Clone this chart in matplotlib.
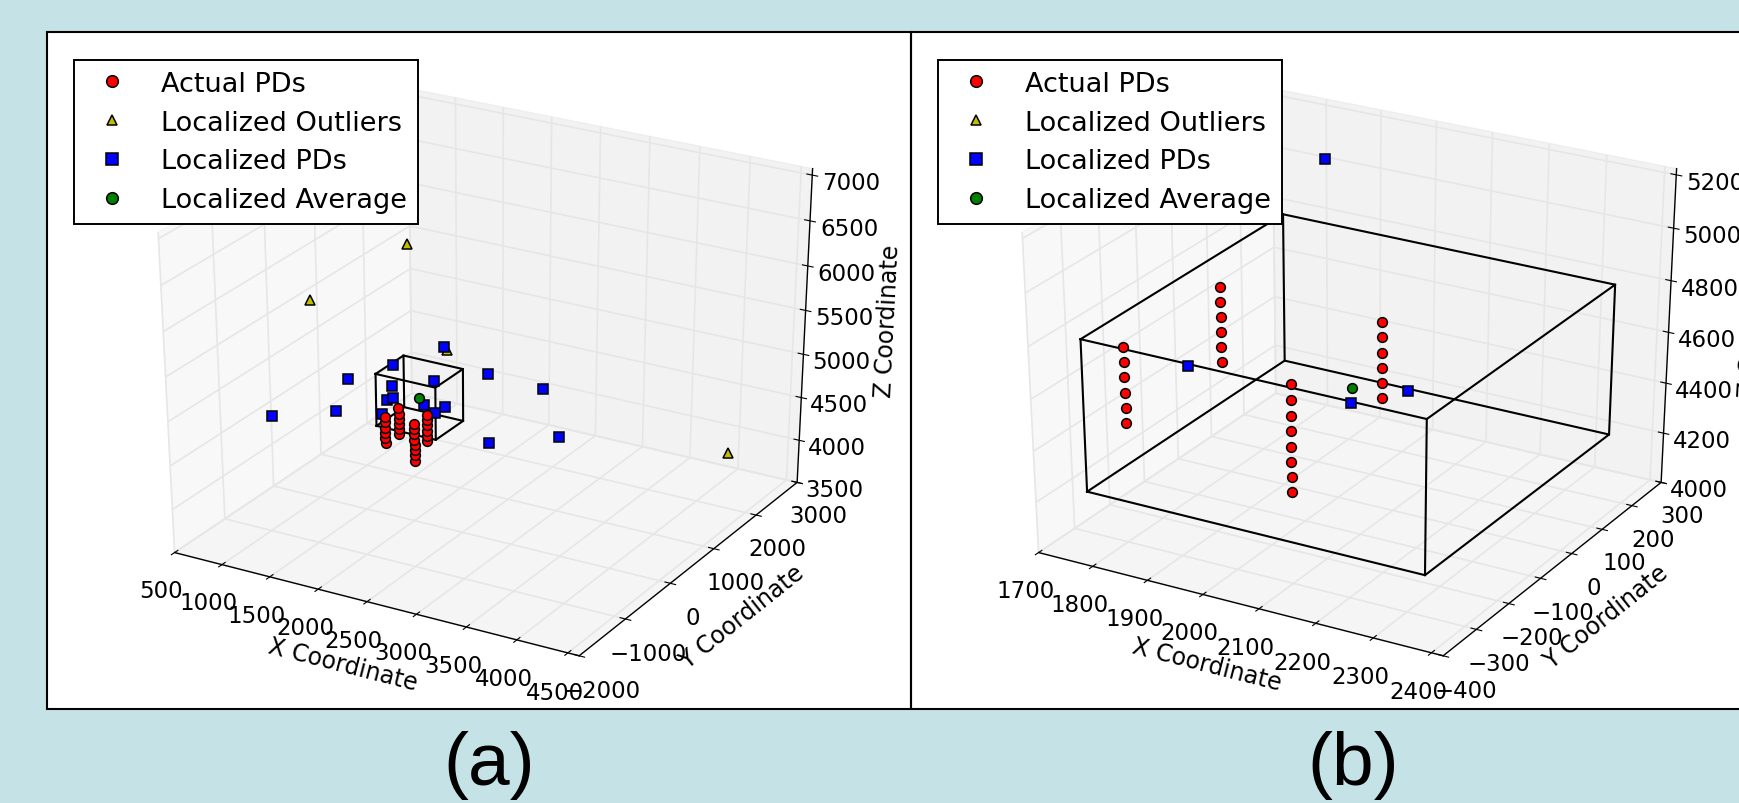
# 3D localisation plots, two panels side by side
import matplotlib
matplotlib.use('Agg')
import matplotlib.pyplot as plt
from matplotlib.patches import Rectangle
from mpl_toolkits.mplot3d import Axes3D

# PANEL A
a_xticks = [500, 1000, 1500, 2000, 2500, 3000, 3500, 4000, 4500]
a_yticks = [-2000, -1000, 0, 1000, 2000, 3000]
a_zticks = [3500, 4000, 4500, 5000, 5500, 6000, 6500, 7000]
a_xmax = 4610
a_zmax = 7070
a_box_x = [1771, 2380]
a_box_y = [-305, 275]
a_box_z = [4657, 5246]
a_pd_x = [1803, 1803, 1803, 1803, 1803, 1803, 1805, 1805, 1805, 1805, 1805, 1805,
          2103, 2103, 2103, 2103, 2103, 2103, 2103, 2103, 2101, 2101, 2101, 2101, 2101, 2101]
a_pd_y = [-189, -189, -189, -189, -189, -189, 87, 87, 87, 87, 87, 87,
          -187, -187, -187, -187, -187, -187, -187, -187, 89, 89, 89, 89, 89, 89]
a_pd_z = [4422, 4482, 4542, 4602, 4662, 4722, 4422, 4482, 4542, 4602, 4662, 4722,
          4302, 4362, 4422, 4482, 4542, 4602, 4662, 4722, 4422, 4482, 4542, 4602, 4662, 4722]
a_blue_x = [2322, 1795, 1327, 2221, 2769, 1781, 1727, 1793, 2115, 2331, 2228, 1194, 1672, 2775, 508, 3314, 3479]
a_blue_y = [0, 0, 0, 0, 0, 0, 0, 0, 0, 0, 0, 0, 0, 0, 0, 0, 0]
a_blue_z = [5572, 5243, 4966, 5170, 5383, 5005, 4828, 4868, 4867, 4908, 4813, 4564, 4658, 4610, 4329, 5358, 4863]
a_out_x = [1961, 947, 2354, 4513]
a_out_y = [0, 0, 0, 1500]
a_out_z = [6618, 5767, 5554, 4393]
a_avg_x = [2065]
a_avg_y = [0]
a_avg_z = [4941]

# PANEL B
b_xticks = [1700, 1800, 1900, 2000, 2100, 2200, 2300, 2400]
b_yticks = [-400, -300, -200, -100, 0, 100, 200, 300]
b_zticks = [4000, 4200, 4400, 4600, 4800, 5000, 5200]
b_xmax = 2420
b_zmax = 5223
b_box_x = [1721, 2326]
b_box_y = [-292, 295]
b_box_z = [4151, 4745]
b_pd_x = [1729, 1729, 1729, 1729, 1729, 1729, 1731, 1731, 1731, 1731, 1731, 1731,
          2029, 2029, 2029, 2029, 2029, 2029, 2029, 2029, 2027, 2027, 2027, 2027, 2027, 2027]
b_pd_y = [-189, -189, -189, -189, -189, -189, 87, 87, 87, 87, 87, 87,
          -187, -187, -187, -187, -187, -187, -187, -187, 89, 89, 89, 89, 89, 89]
b_pd_z = [4332, 4392, 4452, 4512, 4572, 4632, 4332, 4392, 4452, 4512, 4572, 4632,
          4212, 4272, 4332, 4392, 4452, 4512, 4572, 4632, 4332, 4392, 4452, 4512, 4572, 4632]
b_blue_x = [1723, 2023, 2125, 1910]
b_blue_y = [0, 0, 0, 112]
b_blue_z = [4389, 4389, 4488, 5185]
b_out_x = []
b_out_y = []
b_out_z = []
b_avg_x = [2026]
b_avg_y = [0]
b_avg_z = [4452]

bg = '#c5e2e6'
W, H = 1740.0, 804.0

plt.rcParams['font.family'] = ['DejaVu Sans']
plt.rcParams['grid.color'] = '#e6e6e6'
plt.rcParams['grid.linewidth'] = 1.2
plt.rcParams['axes.linewidth'] = 1.0


def panel(left, xticks, yticks, zticks, xmax, zmax):
    top, bottom, width = 34.0, 711.0, 864.0
    rect = [left / W, 1 - bottom / H, width / W, (bottom - top) / H]
    ax = fig.add_axes(rect, projection='3d')
    # the original panels are stretched, not square
    ax.apply_aspect = lambda position=None: None
    ax.set_box_aspect((1, 1, 1), zoom=1 / 1.1003)
    ax.computed_zorder = False
    ax.set_xlim(xticks[0], xmax)
    ax.set_ylim(yticks[0], yticks[-1])
    ax.set_zlim(zticks[0], zmax)
    ax.set_xticks(xticks)
    ax.set_yticks(yticks)
    ax.set_zticks(zticks)
    ax.set_xlabel('X Coordinate', fontsize=17, labelpad=15)
    ax.set_ylabel('Y Coordinate', fontsize=17, labelpad=15)
    ax.set_zlabel('Z Coordinate', fontsize=17, labelpad=18)
    ax.xaxis.set_tick_params(labelsize=16.5, pad=8)
    ax.yaxis.set_tick_params(labelsize=16.5, pad=8)
    ax.zaxis.set_tick_params(labelsize=16.5, pad=10)
    for axis in [ax.xaxis, ax.yaxis, ax.zaxis]:
        axis._axinfo['tick']['inward_factor'] = 0.16
        axis._axinfo['tick']['outward_factor'] = 0.16
    return ax


def draw_box(ax, box_x, box_y, box_z):
    x0, x1 = box_x
    y0, y1 = box_y
    z0, z1 = box_z
    for z in box_z:
        ax.plot([x0, x1, x1, x0, x0], [y0, y0, y1, y1, y0], [z, z, z, z, z], color='k', lw=1.5)
    for x in box_x:
        for y in box_y:
            ax.plot([x, x], [y, y], [z0, z1], color='k', lw=1.5)


fig = plt.figure(figsize=(W / 100, H / 100), dpi=100, facecolor=bg)

panels = [
    (47.0, a_xticks, a_yticks, a_zticks, a_xmax, a_zmax, a_box_x, a_box_y, a_box_z, a_pd_x, a_pd_y, a_pd_z,
     a_out_x, a_out_y, a_out_z, a_blue_x, a_blue_y, a_blue_z, a_avg_x, a_avg_y, a_avg_z, '(a)', 489),
    (911.0, b_xticks, b_yticks, b_zticks, b_xmax, b_zmax, b_box_x, b_box_y, b_box_z, b_pd_x, b_pd_y, b_pd_z,
     b_out_x, b_out_y, b_out_z, b_blue_x, b_blue_y, b_blue_z, b_avg_x, b_avg_y, b_avg_z, '(b)', 1353),
]

for p in panels:
    left, xt, yt, zt, xmax, zmax, bx, by, bz, px, py, pz, ox, oy, oz, lx, ly, lz, mx, my, mz, tag, cx = p
    ax = panel(left, xt, yt, zt, xmax, zmax)
    draw_box(ax, bx, by, bz)
    outl, = ax.plot(ox, oy, oz, '^', color='y', mec='k', mew=1.1, ms=6.5, label='Localized Outliers')
    blue, = ax.plot(lx, ly, lz, 's', color='b', mec='k', mew=1.1, ms=6.8, label='Localized PDs')
    avg, = ax.plot(mx, my, mz, 'o', color='g', mec='k', mew=1.1, ms=7, label='Localized Average')
    act, = ax.plot(px, py, pz, 'o', color='r', mec='k', mew=1.1, ms=7, label='Actual PDs')
    ax.legend(handles=[act, outl, blue, avg], loc='upper left',
              bbox_to_anchor=((left + 27.5) / W, 1 - 61 / H), bbox_transform=fig.transFigure,
              numpoints=1, fontsize=19.5, markerscale=1.2, labelspacing=0.47, fancybox=False,
              framealpha=1, edgecolor='k', borderaxespad=0).get_frame().set_linewidth(1.4)
    fig.add_artist(Rectangle((left / W, 1 - 710 / H), 864 / W, 677 / H, transform=fig.transFigure,
                             fill=False, edgecolor='k', lw=1.5))
    fig.text(cx / W, 1 - 766 / H, tag, family='Liberation Sans', fontsize=54, ha='center', va='center')

fig.savefig('out.png', dpi=100, facecolor=bg)
